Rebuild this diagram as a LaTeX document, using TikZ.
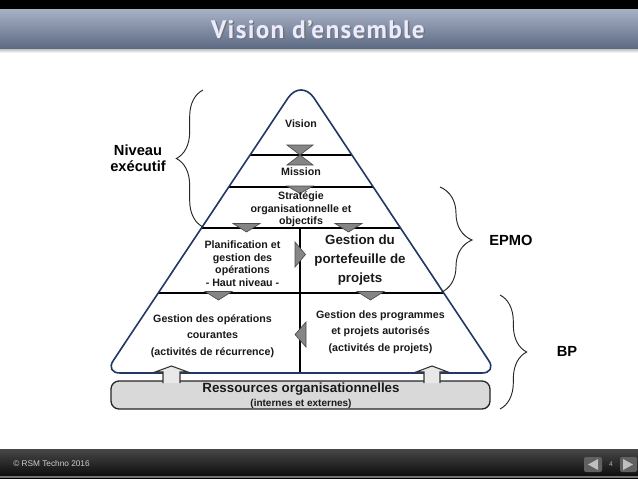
\documentclass[tikz,border=0pt]{standalone}
\usepackage{fontspec}
\setmainfont{Liberation Sans}
\newfontfamily\titlefont[LetterSpace=5]{PT Sans}
\usetikzlibrary{decorations.pathreplacing}
\definecolor{titletop}{HTML}{A7B1C6}
\definecolor{titlebot}{HTML}{5E6B84}
\definecolor{pyrline}{HTML}{1F3864}
\definecolor{tri}{HTML}{858585}
\definecolor{boxfill}{HTML}{D9D9D9}
\definecolor{arrfill}{HTML}{E8E8E8}
\tikzset{
  sm/.style={font=\bfseries\fontsize{8}{9.4}\selectfont, align=center, inner sep=0pt, text=black!90},
  big/.style={font=\bfseries\fontsize{10}{10.9}\selectfont, align=center, inner sep=0pt, text=black!90},
  lab/.style={font=\bfseries\fontsize{11}{12.2}\selectfont, align=center, inner sep=0pt, text=black},
  pyr/.style={draw=pyrline, line width=1.2pt, fill=white},
  sep/.style={draw=black, line width=0.8pt},
  gtri/.style={fill=tri, draw=black!70, line width=0.5pt},
  uparr/.style={fill=arrfill, draw=black!80, line width=0.8pt},
  brc/.style={draw=black!85, line width=0.7pt, decorate},
  ttl/.style={font=\titlefont\bfseries\fontsize{19}{20}\selectfont, inner sep=0pt},
}
\begin{document}
\begin{tikzpicture}[x=0.75pt,y=-0.75pt]
\useasboundingbox (0,0) rectangle (638,479);
\fill[white] (0,0) rectangle (638,479);
% header
\fill[black] (0,0) rectangle (638,10);
\shade[top color=black!30, bottom color=white] (0,48) rectangle (638,53);
\shade[top color=titletop, bottom color=titlebot] (0,9.5) rectangle (638,48);
\node[ttl, text=black!55] at (319.3,30.3) {Vision d’ensemble};
\node[ttl, text=white!92!blue] (title) at (318,29.5) {Vision d’ensemble};
% footer
\shade[top color=black!72, bottom color=black!95] (0,449) rectangle (638,476);
\fill[black!55] (0,476) rectangle (638,477.5);
\fill[black] (0,477.5) rectangle (638,479);
\node[font=\fontsize{6.2}{7}\selectfont, text=black!20, anchor=west, inner sep=0pt] (copy) at (13,464) {© RSM Techno 2016};
\fill[black!62, rounded corners=1.5pt] (584,457) rectangle (602,472);
\fill[black!25] (588,464.5) -- (598,459) -- (598,470) -- cycle;
\node[font=\fontsize{5}{6}\selectfont, text=black!30, inner sep=0pt] (pg) at (611,464.5) {4};
\fill[black!62, rounded corners=1.5pt] (620,457) rectangle (637,472);
\fill[black!25] (633,464.5) -- (623,459) -- (623,470) -- cycle;
% pyramid
\coordinate (apex) at (301,78.5);
\fill[white] (301,373) -- (482,373) .. controls (490.3,373) and (493.3,367.4) .. (488.7,360.5)
  -- (314,98) .. controls (306.8,87.3) and (295.2,87.3) .. (288,98)
  -- (113.3,360.5) .. controls (108.7,367.4) and (111.7,373) .. (120,373) -- cycle;
\draw[sep] (250,155) -- (352,155);
\draw[sep] (228.6,187) -- (373.4,187);
\draw[sep] (201.3,228) -- (400.7,228);
\draw[sep] (157.9,293) -- (444.1,293);
\draw[sep] (300,228) -- (300,373);
\draw[draw=pyrline, line width=1.2pt] (301,373) -- (482,373) .. controls (490.3,373) and (493.3,367.4) .. (488.7,360.5)
  -- (314,98) .. controls (306.8,87.3) and (295.2,87.3) .. (288,98)
  -- (113.3,360.5) .. controls (108.7,367.4) and (111.7,373) .. (120,373) -- cycle;
% gray triangles
\draw[gtri] (287,145) -- (313,145) -- (300,155) -- cycle;
\draw[gtri] (287,165) -- (313,165) -- (300,155) -- cycle;
\draw[gtri] (287,186) -- (313,186) -- (300,193.5) -- cycle;
\draw[gtri] (233,223.5) -- (260,223.5) -- (246.5,232) -- cycle;
\draw[gtri] (335,223.5) -- (362,223.5) -- (348.5,232) -- cycle;
\draw[gtri] (295,242) -- (305.5,254.5) -- (295,267) -- cycle;
\draw[gtri] (205,291.5) -- (232,291.5) -- (218.5,300) -- cycle;
\draw[gtri] (357,291.5) -- (384,291.5) -- (370.5,300) -- cycle;
\draw[gtri] (306,322) -- (295,334.5) -- (306,347) -- cycle;
% resources box and arrows
\node[draw=black!85, line width=1pt, fill=boxfill, rounded corners=6pt, minimum width=379*0.75pt, minimum height=28*0.75pt, inner sep=0pt] (res) at (300.5,395) {};
\draw[uparr] (163,383) -- (163,372) -- (155,372) -- (171.5,366) -- (188,372) -- (180,372) -- (180,383);
\draw[uparr] (424,383) -- (424,372) -- (416,372) -- (432,366) -- (448,372) -- (440,372) -- (440,383);
\node[big] (resa) at (301,389) {Ressources organisationnelles};
\node[sm, font=\bfseries\fontsize{7.5}{9}\selectfont] (resb) at (301,404) {(internes et externes)};
% texts
\node[sm] (vision) at (301,124) {Vision};
\node[sm] (mission) at (301,172) {Mission};
\node[sm] (strat) at (301,209.5) {Stratégie\\organisationnelle et\\objectifs};
\node[sm] (plan) at (242.5,263.5) {Planification et\\gestion des\\opérations\\- Haut niveau -};
\node[big, font=\bfseries\fontsize{10}{14}\selectfont] (port) at (360,260) {Gestion du\\portefeuille de\\projets};
\node[sm, font=\bfseries\fontsize{8}{12.5}\selectfont] (cour) at (212.5,336) {Gestion des opérations\\courantes\\(activités de récurrence)};
\node[sm, font=\bfseries\fontsize{8}{12.5}\selectfont] (prog) at (380.5,332) {Gestion des programmes\\et projets autorisés\\(activités de projets)};
% braces
\coordinate (nb1) at (203,227);
\coordinate (nb2) at (203,90);
\draw[brc, decoration={brace, amplitude=20pt}] (nb1) -- (nb2);
\node[lab] (niveau) at (138,158) {Niveau\\exécutif};
\coordinate (eb1) at (440,187);
\coordinate (eb2) at (440,293);
\draw[brc, decoration={brace, amplitude=24pt}] (eb1) -- (eb2);
\node[lab] (epmo) at (511,240) {EPMO};
\coordinate (bb1) at (500,295);
\coordinate (bb2) at (500,409);
\draw[brc, decoration={brace, amplitude=20pt}] (bb1) -- (bb2);
\node[lab] (bp) at (567,351) {BP};
\end{tikzpicture}
\end{document}
